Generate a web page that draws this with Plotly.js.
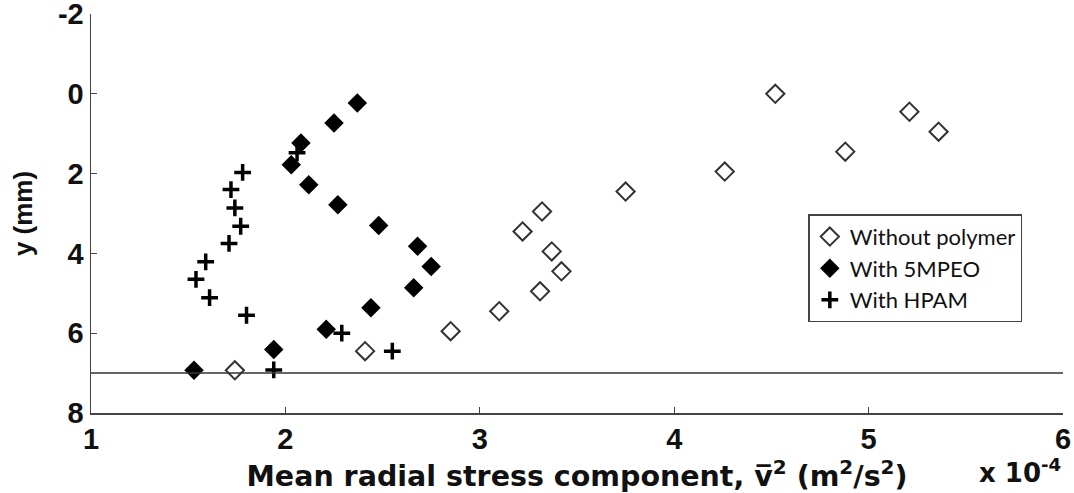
<!DOCTYPE html>
<html>
<head>
<meta charset="utf-8">
<script src="https://cdn.plot.ly/plotly-3.0.1.min.js"></script>
<style>html,body{margin:0;padding:0;background:#fff;}#chart{width:1074px;height:493px;}</style>
</head>
<body>
<div id="chart"></div>
<script>
// Values of x are in units of 1e-4 m^2/s^2; y in mm
const seriesNames = ["Without polymer", "With 5MPEO", "With HPAM"];

const noPolymerX = [4.52, 5.21, 5.36, 4.88, 4.26, 3.75, 3.32, 3.22, 3.37, 3.42, 3.31, 3.10, 2.85, 2.41, 1.74];
const noPolymerY = [0.00, 0.45, 0.95, 1.45, 1.95, 2.45, 2.95, 3.45, 3.95, 4.45, 4.95, 5.45, 5.95, 6.45, 6.93];

const mpeoX = [2.37, 2.25, 2.08, 2.03, 2.12, 2.27, 2.48, 2.68, 2.75, 2.66, 2.44, 2.21, 1.94, 1.53];
const mpeoY = [0.23, 0.73, 1.23, 1.78, 2.28, 2.78, 3.30, 3.82, 4.33, 4.86, 5.36, 5.90, 6.41, 6.93];

const hpamX = [2.06, 1.78, 1.72, 1.74, 1.77, 1.71, 1.59, 1.54, 1.61, 1.80, 2.29, 2.55, 1.94];
const hpamY = [1.48, 1.97, 2.40, 2.86, 3.32, 3.75, 4.21, 4.65, 5.11, 5.55, 6.00, 6.45, 6.92];

const wallY = 7;
const xTickVals = [1, 2, 3, 4, 5, 6];
const yTickVals = [-2, 0, 2, 4, 6, 8];

const traces = [
  {x: noPolymerX, y: noPolymerY, name: seriesNames[0], type: 'scatter', mode: 'markers',
   marker: {symbol: 'diamond-open', size: 14, color: '#333', line: {width: 2, color: '#333'}}},
  {x: mpeoX, y: mpeoY, name: seriesNames[1], type: 'scatter', mode: 'markers',
   marker: {symbol: 'diamond', size: 15, color: '#000', line: {width: 0}}},
  {x: hpamX, y: hpamY, name: seriesNames[2], type: 'scatter', mode: 'markers',
   marker: {symbol: 'cross-thin', size: 12, color: '#000', line: {width: 3.5, color: '#000'}}}
];

const tickFont = {family: 'Liberation Sans, Arial, sans-serif', size: 29, color: '#111', weight: 'bold'};

const layout = {
  width: 1074, height: 493,
  margin: {l: 91, r: 11, t: 14, b: 80},
  paper_bgcolor: '#fff', plot_bgcolor: '#fff',
  showlegend: true,
  legend: {
    x: 0.738, y: 0.498, xanchor: 'left', yanchor: 'top',
    bgcolor: '#fff', bordercolor: '#444', borderwidth: 1.5,
    font: {family: 'Lato, Open Sans, sans-serif', size: 22, color: '#111'},
    tracegroupgap: 0, itemwidth: 30
  },
  xaxis: {
    range: [1, 6], tickvals: xTickVals, ticktext: xTickVals.map(String),
    showgrid: false, zeroline: false,
    showline: true, linecolor: '#444', linewidth: 1.5, mirror: false,
    ticks: 'inside', ticklen: 6, tickcolor: '#444', tickwidth: 1,
    tickfont: tickFont, ticklabeloverflow: 'allow',
    title: {text: '<b>Mean radial stress component, v\u0305<sup>2</sup> (m<sup>2</sup>/s<sup>2</sup>)</b>',
            font: {family: 'DejaVu Sans, sans-serif', size: 28.5, color: '#111'}, standoff: 3}
  },
  yaxis: {
    range: [8, -2], tickvals: yTickVals, ticktext: yTickVals.map(String),
    showgrid: false, zeroline: false,
    showline: true, linecolor: '#444', linewidth: 1.5,
    ticks: 'inside', ticklen: 6, tickcolor: '#444', tickwidth: 1,
    tickfont: tickFont, ticklabeloverflow: 'allow',
    title: {text: '<b>y (mm)</b>', font: {family: 'Liberation Sans, Arial, sans-serif', size: 26, color: '#111'}, standoff: 18}
  },
  shapes: [
    {type: 'line', xref: 'paper', yref: 'y', x0: 0, x1: 1, y0: wallY, y1: wallY,
     line: {color: '#333', width: 1.5}}
  ],
  annotations: [
    {xref: 'paper', yref: 'paper', x: 1.0, y: -0.145, xanchor: 'right', yanchor: 'middle',
     text: '<b>x 10<sup>-4</sup></b>', showarrow: false,
     font: {family: 'DejaVu Sans, sans-serif', size: 26, color: '#111'}}
  ]
};

Plotly.newPlot('chart', traces, layout, {displayModeBar: false, staticPlot: true});
</script>
</body>
</html>
